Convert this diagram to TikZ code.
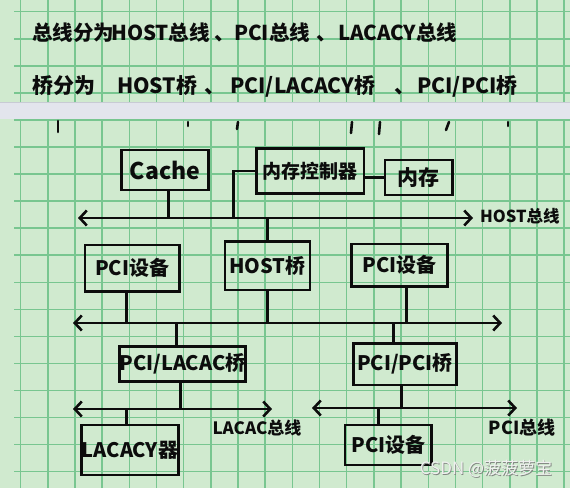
\documentclass[tikz,border=0pt]{standalone}
\usepackage{fontspec}
\setmainfont{Noto Sans CJK SC}
\usetikzlibrary{arrows.meta}
\definecolor{paper}{RGB}{208,234,207}
\definecolor{gridc}{RGB}{120,198,144}
\definecolor{barc}{RGB}{227,229,237}
\definecolor{barline}{RGB}{200,203,212}
\definecolor{ink}{RGB}{12,12,12}
\definecolor{wm}{RGB}{238,240,238}
\definecolor{wmshadow}{RGB}{130,135,130}
\begin{document}
\begin{tikzpicture}[x=1pt,y=-1pt,
  box/.style={draw=ink, line width=2.6pt, rectangle, inner sep=0pt, text=ink,
    font=\fontsize{20}{22}\selectfont\bfseries},
  wire/.style={draw=ink, line width=2.6pt},
  bus/.style={wire, {Straight Barb[length=7pt,width=15pt]}-{Straight Barb[length=7pt,width=15pt]}},
  lbl/.style={text=ink, inner sep=0pt, font=\fontsize{18}{20}\selectfont\bfseries},
  title/.style={text=ink, inner sep=0pt, anchor=base west},
  frag/.style={draw=ink, line width=2.6pt, line cap=round},
  wmtext/.style={inner sep=0pt, font=\fontsize{17}{19}\selectfont}
  ]
\useasboundingbox (0,0) rectangle (570,488);
\fill[paper] (0,0) rectangle (570,488);
% grid
\foreach \k in {0,...,20} {\draw[gridc, line width=1.5pt] ({20.7+27.17*\k},0) -- ({20.7+27.17*\k},488);}
\foreach \k in {0,...,17} {\draw[gridc, line width=1.5pt] (14,{11.7+27.06*\k}) -- (570,{11.7+27.06*\k});}
% title lines
\begin{scope}[every node/.style={title, font=\fontsize{20.5}{23}\selectfont\bfseries}]
\node (t1a) at (32,40) {总线分为};
\node (t1b) at (111,40) {HOST总线};
\node (t1c) at (214,40) {、};
\node (t1d) at (234,40) {PCI总线};
\node (t1e) at (316,40) {、};
\node (t1f) at (338,40) {LACACY总线};
\end{scope}
\begin{scope}[every node/.style={title, font=\fontsize{21}{23}\selectfont\bfseries}]
\node (t2a) at (32,93) {桥分为};
\node (t2b) at (117,93) {HOST桥};
\node (t2c) at (204,93) {、};
\node (t2d) at (230,93) {PCI/LACACY桥};
\node (t2e) at (394,93) {、};
\node (t2f) at (417,93) {PCI/PCI桥};
\end{scope}
% overlay bar
\fill[barc] (0,102) rectangle (570,119);
\draw[barline, line width=0.8pt] (0,102.4) -- (570,102.4);
% fragments of a hidden line
\draw[frag] (58,121) -- (58,132);
\draw[frag] (188,122) -- (188,126);
\draw[frag] (238,122) -- (237,129);
\draw[frag] (352,122) -- (351,133);
\draw[frag] (380,122) -- (379,134);
\draw[frag] (449,122) -- (446,130);
\draw[frag] (508,122) -- (508,126);

% nodes
\node[box, minimum width=86.6pt, minimum height=40pt, font=\fontsize{23}{25}\selectfont\bfseries] (cache) at (165,170) {Cache};
\node[box, minimum width=107.3pt, minimum height=45pt, font=\fontsize{19}{21}\selectfont\bfseries] (mc) at (310.3,170.8) {内存控制器};
\node[box, minimum width=67.7pt, minimum height=35pt, font=\fontsize{21}{23}\selectfont\bfseries] (mem) at (418.8,177.5) {内存};
\node[box, minimum width=94.3pt, minimum height=46.7pt] (pcidev1) at (132.2,268.3) {PCI设备};
\node[box, minimum width=85pt, minimum height=48.3pt] (hostbr) at (267.5,265.8) {HOST桥};
\node[box, minimum width=96pt, minimum height=42.7pt] (pcidev2) at (399.7,265.3) {PCI设备};
\node[box, minimum width=125pt, minimum height=35pt] (plbr) at (182.5,364.2) {PCI/LACAC桥};
\node[box, minimum width=103.4pt, minimum height=41.7pt] (ppbr) at (405,364.2) {PCI/PCI桥};
\node[box, minimum width=96.6pt, minimum height=50pt] (lacdev) at (130,450) {LACACY器};
\node[box, minimum width=86.7pt, minimum height=40pt] (pcidev3) at (388.3,445) {PCI设备};

% buses
\coordinate (hl) at (78,218); \coordinate (hr) at (473,218);
\coordinate (pl) at (73,323); \coordinate (pr) at (502,323);
\coordinate (ll) at (73,409); \coordinate (lr) at (272,409);
\coordinate (ql) at (312,408); \coordinate (qr) at (517,408);
\draw[bus] (hl) -- (hr);
\draw[bus] (pl) -- (pr);
\draw[bus] (ll) -- (lr);
\draw[bus] (ql) -- (qr);

% bus labels
\node[lbl, anchor=west, font=\fontsize{16.5}{18}\selectfont\bfseries] (hostlbl) at (480,216) {HOST总线};
\node[lbl, font=\fontsize{17}{19}\selectfont\bfseries] (laclbl) at (257,428) {LACAC总线};
\node[lbl] (pcilbl) at (522,428) {PCI总线};

% connectors
\draw[wire] (168.3,0 |- cache.south) -- (168.3,0 |- hl);
\draw[wire] (mc.west) -| (233.3,0 |- hl);
\draw[wire] (mem.west -| mc.east) -- (mem.west);
\draw[wire] (hostbr.north) -- (hostbr.north |- hl);
\draw[wire] (hostbr.south) -- (hostbr.south |- pl);
\draw[wire] (126.7,0 |- pcidev1.south) -- (126.7,0 |- pl);
\draw[wire] (406.7,0 |- pcidev2.south) -- (406.7,0 |- pl);
\draw[wire] (176.7,0 |- pl) -- (176.7,0 |- plbr.north);
\draw[wire] (180.7,0 |- plbr.south) -- (180.7,0 |- ll);
\draw[wire] (126.7,0 |- ll) -- (126.7,0 |- lacdev.north);
\draw[wire] (393.3,0 |- pl) -- (393.3,0 |- ppbr.north);
\draw[wire] (401.7,0 |- ppbr.south) -- (401.7,0 |- ql);
\draw[wire] (378.3,0 |- ql) -- (378.3,0 |- pcidev3.north);

% watermark
\node[wmtext, text=wmshadow] (wmarks) at (486.9,469.9) {CSDN @菠菠萝宝};
\node[wmtext, text=wm] (wmark) at (486,469) {CSDN @菠菠萝宝};
\end{tikzpicture}
\end{document}
